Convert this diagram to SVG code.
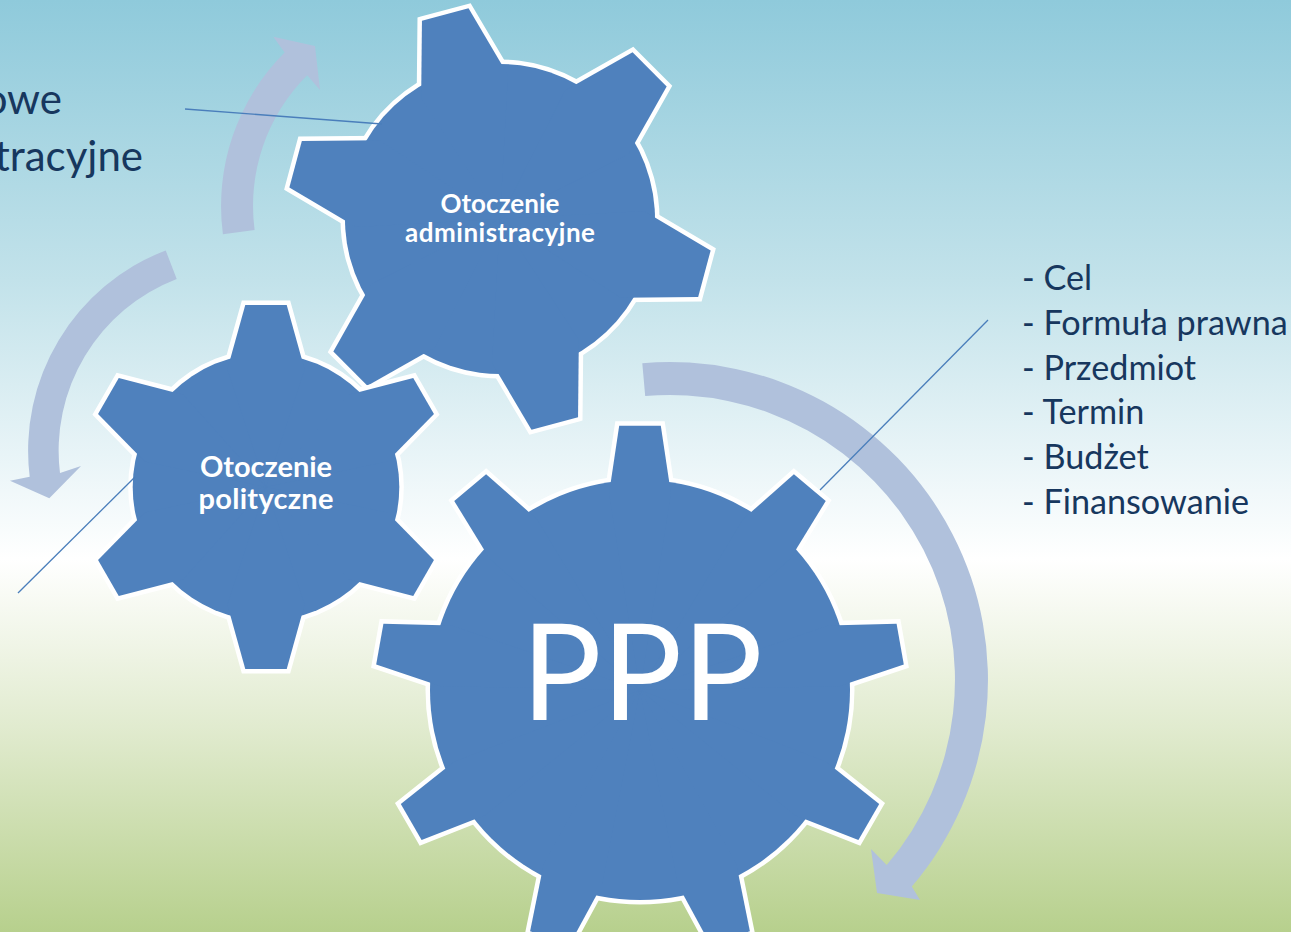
<svg xmlns="http://www.w3.org/2000/svg" width="1291" height="932" viewBox="0 0 1291 932">
<defs>
  <linearGradient id="bg" x1="0" y1="0" x2="0" y2="1">
    <stop offset="0" stop-color="#8fcadb"/>
    <stop offset="0.3" stop-color="#c2e2ea"/>
    <stop offset="0.6" stop-color="#ffffff"/>
    <stop offset="0.78" stop-color="#e1ebcf"/>
    <stop offset="1" stop-color="#b7d08d"/>
  </linearGradient>
  <path id="tooth6" d="M -24.1 -211.6 L 24.1 -211.6 L 44.9 -137 L 0 0 L -44.9 -137 Z"/>
  <g id="g6">
    <circle r="155"/>
    <use href="#tooth6"/>
    <use href="#tooth6" transform="rotate(60)"/>
    <use href="#tooth6" transform="rotate(120)"/>
    <use href="#tooth6" transform="rotate(180)"/>
    <use href="#tooth6" transform="rotate(240)"/>
    <use href="#tooth6" transform="rotate(300)"/>
  </g>
  <path id="tooth9" d="M -20.8 -264.2 L 20.8 -264.2 L 30.9 -196.8 L 0 0 L -30.9 -196.8 Z"/>
  <g id="g9">
    <circle r="210"/>
    <use href="#tooth9"/>
    <use href="#tooth9" transform="rotate(40)"/>
    <use href="#tooth9" transform="rotate(80)"/>
    <use href="#tooth9" transform="rotate(120)"/>
    <use href="#tooth9" transform="rotate(160)"/>
    <use href="#tooth9" transform="rotate(200)"/>
    <use href="#tooth9" transform="rotate(240)"/>
    <use href="#tooth9" transform="rotate(280)"/>
    <use href="#tooth9" transform="rotate(320)"/>
  </g>
</defs>
<style>
  .gs { fill:#ffffff; stroke:#ffffff; stroke-width:9; stroke-linejoin:miter; }
  .gf { fill:#4f81bd; stroke:none; }
  .arrow { fill:#b0c1dc; }
  .conn { stroke:#4a7ebb; stroke-width:1.3; fill:none; }
  .lbl { font-family:Lato, "Open Sans", sans-serif; font-weight:700; fill:#ffffff; text-anchor:middle; }
  .list { font-family:Lato, "Open Sans", sans-serif; font-size:34.2px; fill:#17375e; }
  .side { font-family:Lato, "Open Sans", sans-serif; font-size:42px; fill:#17375e; text-anchor:end; }
</style>

<rect width="1291" height="932" fill="url(#bg)"/>

<g id="cycle-arrows">
  <path class="arrow" d="M 222.9 234.3 A 217 217 0 0 1 284.6 52.6 L 273.3 36.7 L 315 46 L 320 90 L 307.2 75.2 A 185 185 0 0 0 254.6 230.1 Z"/>
  <path class="arrow" d="M 165.7 250.4 A 214.5 214.5 0 0 0 29.7 476.8 L 10 480.7 L 49.3 498.3 L 81 466 L 60 473.1 A 184 184 0 0 1 176.7 278.9 Z"/>
  <path class="arrow" d="M 642.3 363.2 A 318 318 0 0 1 911.8 886.5 L 920 900 L 877 893 L 871 849 L 886.7 865.1 A 285 285 0 0 0 645.2 396.1 Z"/>
</g>

<g id="gear-admin">
  <use href="#g6" class="gs" transform="translate(500 219) rotate(-15)"/>
  <use href="#g6" class="gf" transform="translate(500 219) rotate(-15)"/>
  <text class="lbl" x="500" y="213" font-size="26" textLength="119">Otoczenie</text>
  <text class="lbl" x="500" y="242" font-size="26" textLength="190">administracyjne</text>
</g>

<g id="gear-political">
  <use href="#g6" class="gs" style="stroke-width:10.5" transform="translate(266 487) scale(0.86)"/>
  <use href="#g6" class="gf" transform="translate(266 487) scale(0.86)"/>
  <text class="lbl" x="266" y="477" font-size="29" textLength="132">Otoczenie</text>
  <text class="lbl" x="266" y="509" font-size="29" textLength="135">polityczne</text>
</g>

<g id="gear-ppp">
  <use href="#g9" class="gs" transform="translate(640 690)"/>
  <use href="#g9" class="gf" transform="translate(640 690)"/>
  <text x="642" y="720" font-family="Lato, 'Open Sans', sans-serif" font-size="134" fill="#ffffff" text-anchor="middle">PPP</text>
</g>

<g id="connectors">
  <line class="conn" x1="185" y1="109" x2="382" y2="124"/>
  <line class="conn" x1="18" y1="593" x2="135" y2="477"/>
  <line class="conn" x1="820" y1="490" x2="988" y2="320"/>
</g>

<g id="side-text">
  <text class="side" x="62" y="114">owe</text>
  <text class="side" x="143" y="171">tracyjne</text>
</g>

<g id="ppp-list">
  <text class="list" x="1022" y="290">- Cel</text>
  <text class="list" x="1022" y="335">- Formuła prawna</text>
  <text class="list" x="1022" y="380">- Przedmiot</text>
  <text class="list" x="1022" y="424">- Termin</text>
  <text class="list" x="1022" y="469">- Budżet</text>
  <text class="list" x="1022" y="514">- Finansowanie</text>
</g>
</svg>
